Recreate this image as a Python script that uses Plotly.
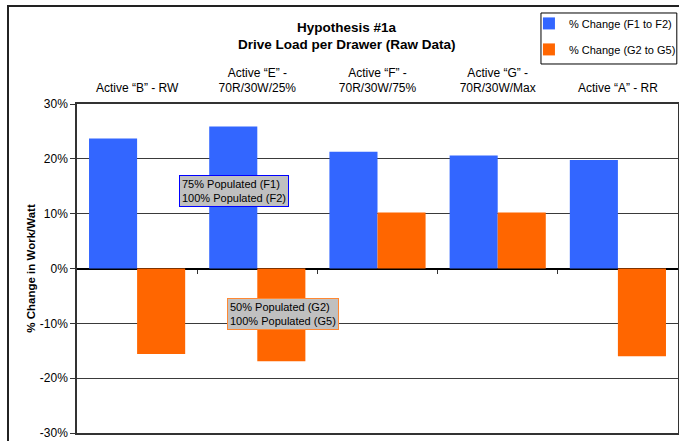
import plotly.graph_objects as go

categories = ["Active \u201cB\u201d - RW",
              "Active \u201cE\u201d -<br>70R/30W/25%",
              "Active \u201cF\u201d -<br>70R/30W/75%",
              "Active \u201cG\u201d -<br>70R/30W/Max",
              "Active \u201cA\u201d - RR"]
series_f = [0.237, 0.259, 0.213, 0.206, 0.198]
series_g = [-0.156, -0.169, 0.102, 0.102, -0.160]
name_f = "% Change (F1 to F2)"
name_g = "% Change (G2 to G5)"
y_ticks = [-0.3, -0.2, -0.1, 0, 0.1, 0.2, 0.3]
y_labels = ["-30%", "-20%", "-10%", "0%", "10%", "20%", "30%"]
boundary_ticks = [0.5, 1.5, 2.5, 3.5]

FONT = "Liberation Sans, Arial, sans-serif"

fig = go.Figure()
fig.add_trace(go.Bar(x=categories, y=series_f, name=name_f, legendgroup="f",
                     marker=dict(color="#3366FF", line=dict(width=0))))
fig.add_trace(go.Bar(x=categories, y=series_g, name=name_g, legendgroup="g",
                     marker=dict(color="#FF6600", line=dict(width=0))))
# invisible trace carrying the category-boundary tick marks on the zero line
fig.add_trace(go.Scatter(x=boundary_ticks, y=[0] * len(boundary_ticks), xaxis="x2",
                         mode="markers", marker=dict(opacity=0), showlegend=False,
                         hoverinfo="skip"))

fig.update_layout(
    width=679, height=441,
    margin=dict(l=77, r=1, t=104, b=8, autoexpand=False),
    paper_bgcolor="white", plot_bgcolor="white",
    font=dict(family=FONT, size=12, color="#000"),
    barmode="group", bargap=0.2, bargroupgap=0,
    showlegend=True,
    legend=dict(x=0.752, y=1.289, xanchor="left", yanchor="top",
                borderwidth=0, bgcolor="rgba(0,0,0,0)",
                font=dict(size=11, family=FONT), itemwidth=30,
                tracegroupgap=7, traceorder="grouped"),
    xaxis=dict(side="top", type="category", showgrid=False, ticks="",
               showline=True, linecolor="#333", linewidth=1.5, mirror=True,
               tickfont=dict(size=12, family=FONT), zeroline=False,
               ticklabelstandoff=5, range=[-0.5, 4.5]),
    xaxis2=dict(overlaying="x", anchor="free", position=0.5, range=[-0.5, 4.5],
                showticklabels=False, ticks="outside", ticklen=4, tickcolor="#333",
                tickvals=boundary_ticks, showgrid=False, showline=False,
                zeroline=False, side="bottom"),
    yaxis=dict(range=[-0.3, 0.3], tickvals=y_ticks, ticktext=y_labels,
               ticks="outside", ticklen=5, tickcolor="#333",
               showgrid=True, gridcolor="#3a3a3a", gridwidth=1,
               zeroline=True, zerolinecolor="#000", zerolinewidth=1.5,
               showline=True, linecolor="#333", linewidth=1.5, mirror=True,
               tickfont=dict(size=12, family=FONT),
               title=dict(text="<b>% Change in Work/Watt</b>", standoff=2,
                          font=dict(size=11.5, family=FONT))),
    annotations=[
        dict(xref="paper", yref="paper", x=0.449, y=1.234, yanchor="middle",
             text="<b>Hypothesis #1a</b>",
             showarrow=False, font=dict(size=13.5, family=FONT)),
        dict(xref="paper", yref="paper", x=0.449, y=1.182, yanchor="middle",
             text="<b>Drive Load per Drawer (Raw Data)</b>",
             showarrow=False, font=dict(size=13.5, family=FONT)),
        dict(xref="x", yref="y", x=0.81, y=0.141,
             text="75% Populated (F1)<br>100% Populated (F2)", align="left",
             showarrow=False, bgcolor="#C0C0C0", bordercolor="#0000FF",
             borderwidth=1, borderpad=2, font=dict(size=11, family=FONT)),
        dict(xref="x", yref="y", x=1.21, y=-0.083,
             text="50% Populated (G2)<br>100% Populated (G5)", align="left",
             showarrow=False, bgcolor="#C0C0C0", bordercolor="#FF8833",
             borderwidth=1, borderpad=2, font=dict(size=11, family=FONT)),
    ],
    shapes=[
        dict(type="rect", xref="paper", yref="paper",
             x0=-0.1148, x1=1.2, y0=-0.2, y1=1.298,
             line=dict(color="#222", width=2), fillcolor="rgba(0,0,0,0)",
             layer="below"),
        dict(type="rect", xref="paper", yref="paper",
             x0=0.772, x1=0.998, y0=1.1216, y1=1.2766,
             line=dict(color="#000", width=1), fillcolor="rgba(0,0,0,0)",
             layer="below"),
    ],
)

fig.write_html("out.html", config={"displayModeBar": False},
               post_script="document.body.style.margin='0';document.body.style.overflow='hidden';")
